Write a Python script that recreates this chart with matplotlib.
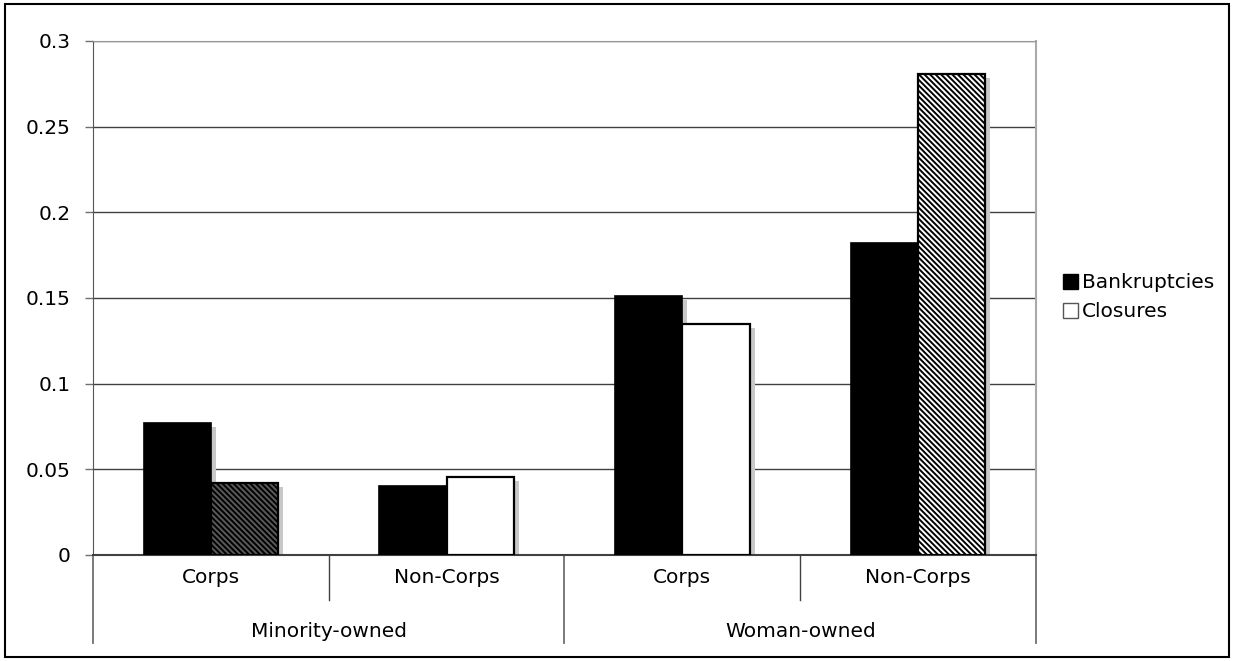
import matplotlib
matplotlib.use("Agg")
from matplotlib import pyplot as plt
from matplotlib.patches import Patch, Rectangle
from matplotlib.transforms import ScaledTranslation
from matplotlib.ticker import FuncFormatter

# data
owners = ["Minority-owned", "Woman-owned"]
forms = ["Corps", "Non-Corps", "Corps", "Non-Corps"]
bankruptcies = [0.077, 0.0405, 0.151, 0.182]
closures = [0.042, 0.0455, 0.135, 0.281]
closure_faces = ["#5a5a5a", "white", "white", "white"]
closure_hatches = ["\\" * 6, None, None, "\\" * 6]

FS = 14.5

plt.rcParams["font.family"] = "DejaVu Sans"
plt.rcParams["hatch.linewidth"] = 1.4

fig = plt.figure(figsize=(12.33, 6.61), dpi=100)
ax = fig.add_axes([0.0754, 0.1604, 0.7648, 0.7776])

x = list(range(len(forms)))
w = 0.285
xb = [i - w / 2 for i in x]
xc = [i + w / 2 for i in x]

# drop shadows behind the bars
shift = ax.transData + ScaledTranslation(0.05, -0.04, fig.dpi_scale_trans)
ax.bar(xb, bankruptcies, w, color="#c8c8c8", transform=shift, zorder=2)
ax.bar(xc, closures, w, color="#c8c8c8", transform=shift, zorder=2)

ax.bar(xb, bankruptcies, w, color="black", edgecolor="black", linewidth=1.2, zorder=3)
for i in x:
    ax.bar(xc[i], closures[i], w, facecolor=closure_faces[i], edgecolor="black",
           linewidth=1.6, hatch=closure_hatches[i], zorder=4)

ax.set_xlim(-0.5, 3.5)
ax.set_ylim(0, 0.3)
ax.set_yticks([0, 0.05, 0.1, 0.15, 0.2, 0.25, 0.3])
ax.yaxis.set_major_formatter(FuncFormatter(lambda v, p: "%g" % v))
ax.yaxis.grid(True, color="#404040", linewidth=1.0, zorder=0)
ax.set_axisbelow(True)
ax.tick_params(axis="y", direction="out", length=6, width=1, color="#707070",
               labelsize=FS, pad=10)
ax.set_xticks([])

ax.spines["left"].set_color("#555555")
ax.spines["bottom"].set_color("#404040")
ax.spines["bottom"].set_linewidth(1.5)
ax.spines["top"].set_color("#999999")
ax.spines["right"].set_color("#aaaaaa")
ax.spines["right"].set_linewidth(1.5)

# two-level category axis
tr = ax.get_xaxis_transform()
for b in [0.5, 2.5]:
    ax.plot([b, b], [0, -0.088], transform=tr, color="#404040", lw=1, clip_on=False)
for b in [-0.5, 1.5, 3.5]:
    ax.plot([b, b], [0, -0.171], transform=tr, color="#707070", lw=1.3, clip_on=False)
for i in x:
    ax.text(i, -0.044, forms[i], transform=tr, ha="center", va="center", fontsize=FS)
for j, name in enumerate(owners):
    ax.text(2 * j + 0.5, -0.148, name, transform=tr, ha="center", va="center",
            fontsize=FS)

handles = [Patch(facecolor="black", edgecolor="black"),
           Patch(facecolor="white", edgecolor="#555555")]
fig.legend(handles, ["Bankruptcies", "Closures"], loc="center left",
           bbox_to_anchor=(0.851, 0.55), frameon=False, fontsize=FS,
           handlelength=0.72, handleheight=0.72, handletextpad=0.2,
           labelspacing=0.5, borderpad=0.2)

# outer frame
fig.patches.append(Rectangle((0.004, 0.006), 0.993, 0.988, transform=fig.transFigure,
                             fill=False, edgecolor="black", linewidth=1.5))

fig.savefig("out.png", dpi=100)
